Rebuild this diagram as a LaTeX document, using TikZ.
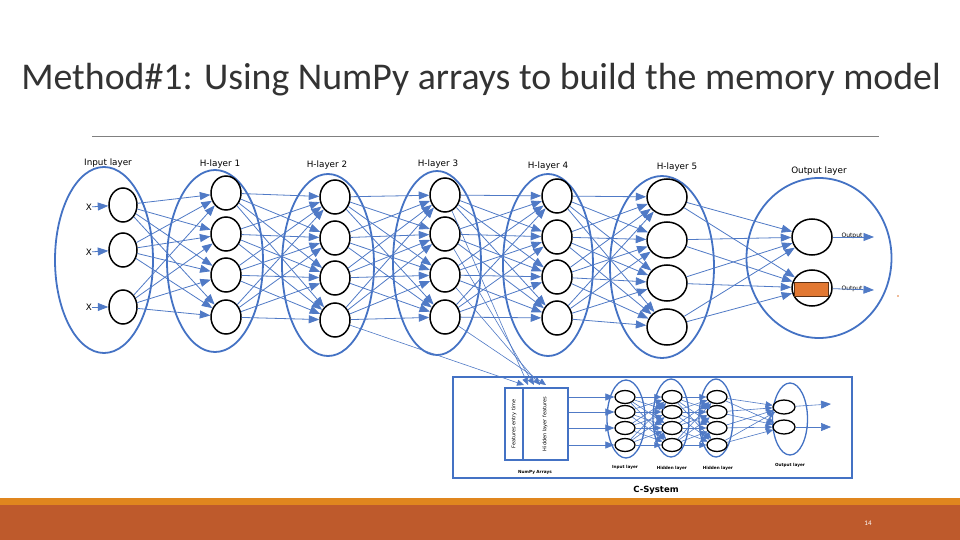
\documentclass[tikz,border=0pt]{standalone}
\usepackage{fontspec}
\setmainfont{Carlito}
\newfontfamily\lblfont{DejaVu Sans}
\usetikzlibrary{shapes.geometric,arrows.meta}
\definecolor{cblue}{RGB}{68,114,196}
\definecolor{lblue}{RGB}{80,122,198}
\definecolor{band}{RGB}{190,90,44}
\definecolor{stripe}{RGB}{224,134,30}
\definecolor{outorange}{RGB}{226,120,50}
\tikzset{
  neuron/.style={draw=black, line width=1.5pt, ellipse, inner sep=0pt},
  layerell/.style={draw=cblue, line width=1.8pt, ellipse, inner sep=0pt},
  conn/.style={draw=lblue, line width=0.8pt, -{Triangle[length=10.5pt,width=8pt]}},
  cconn/.style={draw=lblue, line width=0.6pt, -{Triangle[length=7pt,width=6pt]}},
  lbl/.style={font=\lblfont\fontsize{8.8}{10}\selectfont, inner sep=0pt},
  tiny/.style={font=\lblfont\bfseries\fontsize{4.2}{5}\selectfont, inner sep=0pt},
}
\begin{document}
\begin{tikzpicture}[x=1pt,y=-1pt]
\useasboundingbox (0,0) rectangle (960,540);
\fill[white] (0,0) rectangle (960,540);
% title
\node[font=\fontsize{37.8}{42}\selectfont, text=black!80] (title) at (481,80) {Method\#1: Using NumPy arrays to build the memory model};
\draw[gray, line width=0.8pt] (92,136) -- (879,136);
% bottom band
\fill[stripe] (0,498) rectangle (960,505);
\fill[band] (0,505) rectangle (960,540);
\node[font=\fontsize{7}{8}\selectfont, text=white] (pnum) at (868,523) {14};

% layer ellipses
\node[layerell, minimum width=98pt, minimum height=186pt] (E0) at (104,260) {};
\node[layerell, minimum width=96pt, minimum height=182pt] (E1) at (215,261) {};
\node[layerell, minimum width=92pt, minimum height=182pt] (E2) at (328,265) {};
\node[layerell, minimum width=88pt, minimum height=184pt] (E3) at (437,263) {};
\node[layerell, minimum width=90pt, minimum height=182pt] (E4) at (548,265) {};
\node[layerell, minimum width=104pt, minimum height=182pt] (E5) at (662,267) {};
\node[layerell, minimum width=145pt, minimum height=160pt] (E6) at (819,258) {};

% labels
\node[lbl] (t0) at (108,163) {Input layer};
\node[lbl] (t1) at (220,164) {H-layer 1};
\node[lbl] (t2) at (327,165) {H-layer 2};
\node[lbl] (t3) at (438,164) {H-layer 3};
\node[lbl] (t4) at (548,166) {H-layer 4};
\node[lbl] (t5) at (677,167) {H-layer 5};
\node[lbl] (t6) at (819,171) {Output layer};

% neurons
\foreach \y [count=\i] in {205,250,307}
  \node[neuron, minimum width=28pt, minimum height=34pt] (L0-\i) at (123,\y) {};
\foreach \y [count=\i] in {193,234,275,317}
  \node[neuron, minimum width=30pt, minimum height=34pt] (L1-\i) at (226,\y) {};
\foreach \y [count=\i] in {197,238,278,320}
  \node[neuron, minimum width=30pt, minimum height=34pt] (L2-\i) at (335,\y) {};
\foreach \y [count=\i] in {195,234,275,317}
  \node[neuron, minimum width=30pt, minimum height=34pt] (L3-\i) at (445,\y) {};
\foreach \y [count=\i] in {196,237,277,318}
  \node[neuron, minimum width=30pt, minimum height=34pt] (L4-\i) at (557,\y) {};
\foreach \y [count=\i] in {197,240,283,327}
  \node[neuron, minimum width=40pt, minimum height=36pt] (L5-\i) at (667,\y) {};
\foreach \y [count=\i] in {237,288}
  \node[neuron, minimum width=40pt, minimum height=36pt] (L6-\i) at (812,\y) {};
\fill[outorange, draw=black!60!outorange, line width=0.8pt] (794,282) rectangle (828,296);

% inputs
\foreach \y [count=\i] in {207,252,307}{
  \node[lbl] (x\i) at (89,\y) {X};
  \draw[conn] (x\i) -- (L0-\i);
}
% connections
\foreach \i in {1,2,3}\foreach \j in {1,...,4} \draw[conn] (L0-\i) -- (L1-\j);
\foreach \i in {1,...,4}\foreach \j in {1,...,4} \draw[conn] (L1-\i) -- (L2-\j);
\foreach \i in {1,...,4}\foreach \j in {1,...,4} \draw[conn] (L2-\i) -- (L3-\j);
\foreach \i in {1,...,4}\foreach \j in {1,...,4} \draw[conn] (L3-\i) -- (L4-\j);
\foreach \i in {1,...,4}\foreach \j in {1,...,4} \draw[conn] (L4-\i) -- (L5-\j);
\foreach \i in {1,...,4}\foreach \j in {1,2} \draw[conn] (L5-\i) -- (L6-\j);
% outputs
\foreach \y [count=\i] in {237,290}{
  \node[font=\lblfont\fontsize{6}{7}\selectfont, inner sep=0pt] (o\i) at (852,\y-1) {Output};
  \coordinate (oe\i) at (874,\y);
  \draw[conn] (L6-\i) -- (oe\i);
}
\fill[outorange] (898,296) circle (0.8);

% C-System
\node[draw=cblue, line width=2.4pt, minimum width=399pt, minimum height=101pt, inner sep=0pt] (csys) at (652.5,427.5) {};
\node[font=\lblfont\bfseries\fontsize{8.5}{9}\selectfont] (ctitle) at (656,490) {C-System};
\node[draw=cblue, line width=1.4pt, minimum width=63pt, minimum height=72pt, inner sep=0pt] (np) at (536.5,424) {};
\draw[cblue, line width=1.4pt] (523,388) -- (523,460);
\node[font=\lblfont\fontsize{5}{6}\selectfont, rotate=90, inner sep=0pt] (fe) at (514,424) {Features entry time};
\node[font=\lblfont\fontsize{5}{6}\selectfont, rotate=90, inner sep=0pt] (hf) at (545,424) {Hidden layer features};
\node[tiny] (npa) at (535,472) {NumPy Arrays};

% lines from network into NumPy arrays
\foreach \i/\xx in {1/528,2/534,3/540,4/546}{
  \coordinate (in\i) at (\xx,385);
  \draw[cconn] (L3-\i) -- (in\i);
}
\coordinate (in5) at (524,385);
\draw[cconn] (L2-4) -- (in5);

% C layers
\node[layerell, line width=1.3pt, minimum width=38pt, minimum height=78pt] (CE0) at (626,419) {};
\node[layerell, line width=1.3pt, minimum width=36pt, minimum height=78pt] (CE1) at (671,418) {};
\node[layerell, line width=1.3pt, minimum width=34pt, minimum height=78pt] (CE2) at (716,418) {};
\node[layerell, line width=1.3pt, minimum width=35pt, minimum height=72pt] (CE3) at (790,419) {};
\foreach \y [count=\i] in {397,412,428,445}{
  \node[neuron, line width=1.3pt, minimum width=20pt, minimum height=13pt] (C0-\i) at (625,\y) {};
  \node[neuron, line width=1.3pt, minimum width=20pt, minimum height=13pt] (C1-\i) at (672,\y) {};
  \node[neuron, line width=1.3pt, minimum width=20pt, minimum height=13pt] (C2-\i) at (717,\y) {};
}
\foreach \y [count=\i] in {407,427}
  \node[neuron, line width=1.3pt, minimum width=22pt, minimum height=14pt] (C3-\i) at (784,\y) {};
\foreach \i in {1,...,4} \draw[cconn, -{Triangle[length=9pt,width=7pt]}] (np.east |- C0-\i) -- (C0-\i);
\foreach \i in {1,...,4}\foreach \j in {1,...,4} \draw[cconn] (C0-\i) -- (C1-\j);
\foreach \i in {1,...,4}\foreach \j in {1,...,4} \draw[cconn] (C1-\i) -- (C2-\j);
\foreach \i in {1,...,4}\foreach \j in {1,2} \draw[cconn] (C2-\i) -- (C3-\j);
\foreach \y [count=\i] in {404,427}{
  \coordinate (co\i) at (831,\y);
  \draw[cconn, -{Triangle[length=10pt,width=8pt]}] (C3-\i) -- (co\i);
}
\node[tiny] (cl0) at (625,467) {Input layer};
\node[tiny] (cl1) at (672,468) {Hidden layer};
\node[tiny] (cl2) at (718,468) {Hidden layer};
\node[tiny] (cl3) at (790,465) {Output layer};
\end{tikzpicture}
\end{document}
